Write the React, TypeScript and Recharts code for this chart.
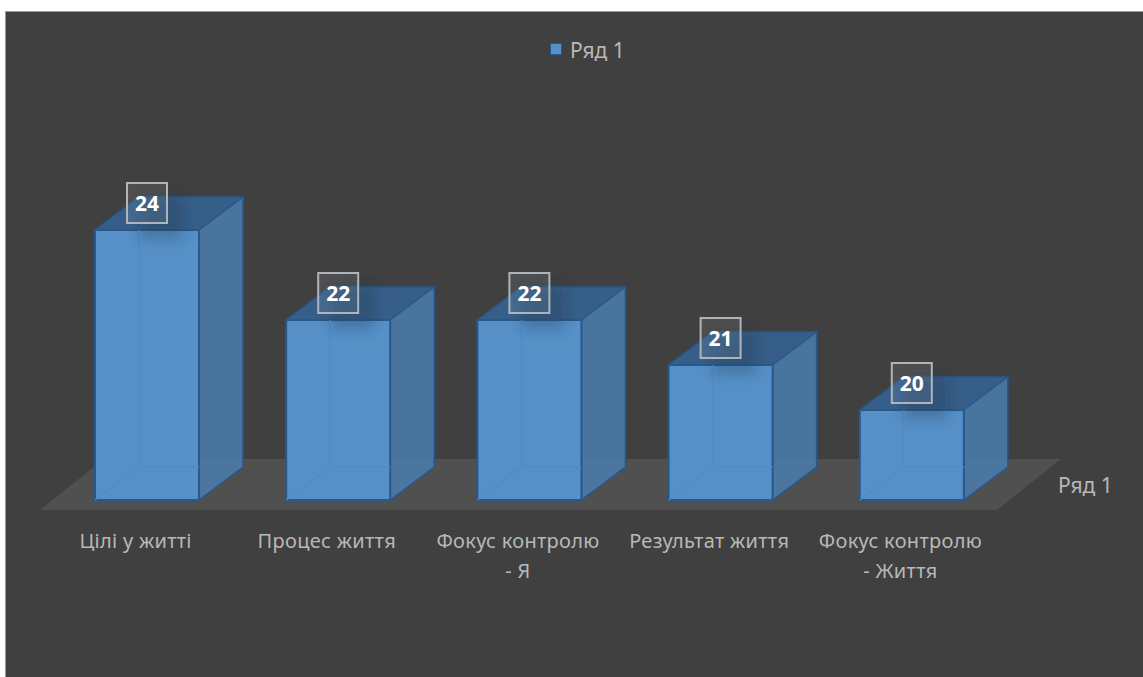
import React from 'react'

import { Bar, BarChart, Customized, LabelList, Legend, XAxis, YAxis, usePlotArea } from 'recharts'

const categories = ['Цілі у житті', 'Процес життя', 'Фокус контролю - Я', 'Результат життя', 'Фокус контролю - Життя']
const values = [24, 22, 22, 21, 20]
const seriesName = 'Ряд 1'

const data = categories.map((name, i) => ({ name, value: values[i] }))

const FONT = '"Noto Sans", sans-serif'
const TEXT_COLOR = '#b8b8b8'
const BAR_COLOR = '#5690c7'
const BAR_STROKE = '#27598c'
const DEPTH_X = 44
const DEPTH_Y = 33

const Bar3D = (props: any) => {
  const { x, y, width, height } = props
  const right = x + width
  const bottom = y + height
  return (
    <g>
      <polygon
        points={`${x},${y} ${right},${y} ${right + DEPTH_X},${y - DEPTH_Y} ${x + DEPTH_X},${y - DEPTH_Y}`}
        fill="#34659a"
        fillOpacity={0.8}
        stroke={BAR_STROKE}
        strokeWidth={1.5}
      />
      <polygon
        points={`${right},${y} ${right + DEPTH_X},${y - DEPTH_Y} ${right + DEPTH_X},${bottom - DEPTH_Y} ${right},${bottom}`}
        fill="#4a7aa8"
        fillOpacity={0.9}
        stroke={BAR_STROKE}
        strokeWidth={1.5}
      />
      <rect x={x} y={y} width={width} height={height} fill={BAR_COLOR} stroke={BAR_STROKE} strokeWidth={2} />
      <path
        d={`M${x + DEPTH_X},${y} V${bottom - DEPTH_Y} L${x},${bottom} M${x + DEPTH_X},${bottom - DEPTH_Y} H${right}`}
        fill="none"
        stroke="#528cc5"
        strokeWidth={1.5}
      />
    </g>
  )
}

const ValueBadge = (props: any) => {
  const { x, y, width, value } = props
  const cx = x + width / 2
  const cy = y - 27
  return (
    <g>
      <rect x={cx - 8} y={cy - 8} width={44} height={44} fill="#1d3550" fillOpacity={0.3} filter="url(#badgeShadow)" />
      <rect x={cx - 20} y={cy - 20} width={40} height={40} fill="#fff" fillOpacity={0.08} stroke="#aeb4ba" strokeWidth={2} />
      <text x={cx} y={cy} textAnchor="middle" dominantBaseline="central" fill="#fff" fontFamily={FONT} fontSize={21} fontWeight={700}>
        {value}
      </text>
    </g>
  )
}

// підлога і підпис осі глибини
const Floor = () => {
  const plot = usePlotArea()
  if (!plot) return null
  const bottom = plot.y + plot.height + 10
  const left = plot.x - 11
  const far = plot.x + plot.width - 10
  return (
    <g>
      <defs>
        <filter id="badgeShadow" x="-50%" y="-50%" width="200%" height="200%">
          <feGaussianBlur stdDeviation="6" />
        </filter>
      </defs>
      <polygon
        points={`${left},${bottom} ${far},${bottom} ${far + 64},${bottom - 51} ${left + 64},${bottom - 51}`}
        fill="#505050"
      />
      <text x={far + 61} y={bottom - 25} dominantBaseline="central" fill={TEXT_COLOR} fontFamily={FONT} fontSize={21}>
        {seriesName}
      </text>
    </g>
  )
}

const CategoryTick = (props: any) => {
  const { x, y, payload } = props
  // довгі підписи переносяться перед дефісом
  const [first, second] = String(payload.value).split(' - ')
  const tx = x - 11
  return (
    <text x={tx} y={y + 16} textAnchor="middle" fill={TEXT_COLOR} fontFamily={FONT} fontSize={20} letterSpacing={0.3}>
      <tspan x={tx}>{first}</tspan>
      {second && (
        <tspan x={tx} dy={30}>
          - {second}
        </tspan>
      )}
    </text>
  )
}

const LegendContent = (props: any) => (
  <div style={{ display: 'flex', alignItems: 'center', gap: 8, fontFamily: FONT, fontSize: 21, lineHeight: '28px', color: TEXT_COLOR }}>
    {(props.payload || []).map((entry: any) => (
      <React.Fragment key={entry.value}>
        <span style={{ width: 12, height: 12, boxSizing: 'border-box', background: BAR_COLOR, border: `1px solid ${BAR_STROKE}`, marginTop: -2 }} />
        <span>{entry.value}</span>
      </React.Fragment>
    ))}
  </div>
)

export default function App() {
  return (
    <div style={{ position: 'absolute', left: 0, top: 0, width: 1143, height: 677, background: '#fff', overflow: 'hidden' }}>
      <div
        style={{
          position: 'absolute',
          left: 5,
          top: 11,
          width: 1138,
          height: 666,
          background: '#404040',
          borderLeft: '1px solid #999',
          borderTop: '1px solid #999',
          boxSizing: 'border-box',
        }}
      >
        <BarChart
          width={1137}
          height={665}
          data={data}
          margin={{ top: 100, right: 136, left: 45, bottom: 117 }}
          barCategoryGap={0}
        >
          <Customized component={Floor} />
          <XAxis dataKey="name" axisLine={false} tickLine={false} interval={0} height={60} tick={<CategoryTick />} tickMargin={26} />
          <YAxis hide domain={[18, 26]} />
          <Legend
            verticalAlign="top"
            content={<LegendContent />}
            wrapperStyle={{ position: 'absolute', top: 24, left: 544, width: 100 }}
          />
          <Bar dataKey="value" name={seriesName} fill={BAR_COLOR} barSize={104} shape={<Bar3D />} isAnimationActive={false}>
            <LabelList dataKey="value" content={<ValueBadge />} />
          </Bar>
        </BarChart>
      </div>
    </div>
  )
}
